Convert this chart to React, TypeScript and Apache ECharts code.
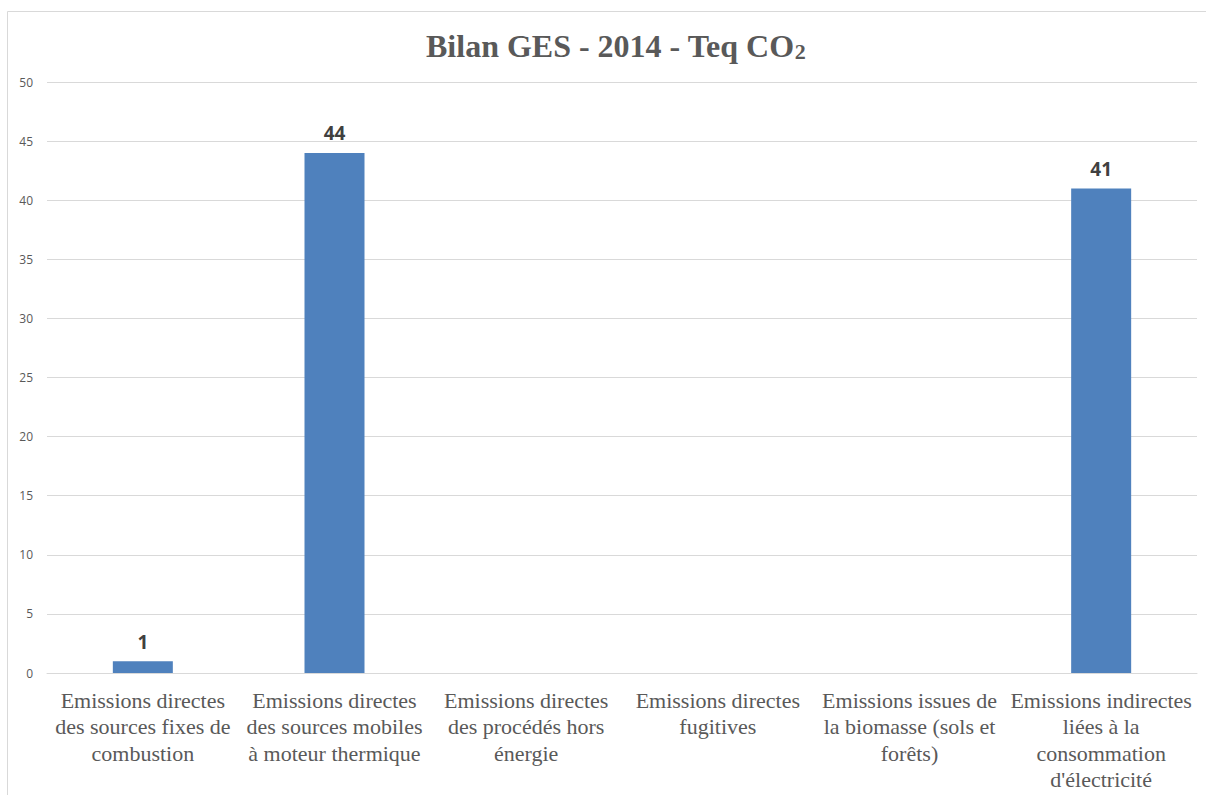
import React, { useEffect, useRef } from "react";
import * as echarts from "echarts";

const categories = [
  "Emissions directes\ndes sources fixes de\ncombustion",
  "Emissions directes\ndes sources mobiles\nà moteur thermique",
  "Emissions directes\ndes procédés hors\nénergie",
  "Emissions directes\nfugitives",
  "Emissions issues de\nla biomasse (sols et\nforêts)",
  "Emissions indirectes\nliées à la\nconsommation\nd'électricité",
];
const values = [1, 44, 0, 0, 0, 41];
const yMin = 0;
const yMax = 50;
const yInterval = 5;

const SERIF = "'Liberation Serif', 'Times New Roman', serif";

export default function App() {
  const ref = useRef<HTMLDivElement>(null);
  useEffect(() => {
    if (!ref.current) return;
    const chart = echarts.init(ref.current, null, { renderer: "svg" });
    chart.setOption({
      animation: false,
      backgroundColor: "#ffffff",
      textStyle: { fontFamily: SERIF },
      title: {
        text: "{a|Bilan GES - 2014 - Teq CO}{b|2}",
        left: 421,
        top: 25,
        textStyle: {
          rich: {
            a: {
              fontFamily: SERIF,
              fontWeight: "bold",
              fontSize: 32,
              color: "#595959",
            },
            b: {
              fontFamily: SERIF,
              fontWeight: "bold",
              fontSize: 22,
              color: "#595959",
              verticalAlign: "bottom",
              padding: [10, 0, 0, 0],
            },
          },
        },
      },
      graphic: [
        {
          type: "rect",
          shape: { x: 7.5, y: 11.5, width: 1220, height: 800 },
          style: { fill: "none", stroke: "#d9d9d9", lineWidth: 1 },
          silent: true,
        },
      ],
      grid: { left: 47, right: 9, top: 82, bottom: 122, containLabel: false },
      xAxis: {
        type: "category",
        data: categories,
        axisLine: { show: true, lineStyle: { color: "#d9d9d9", width: 1 } },
        axisTick: { show: false },
        axisLabel: {
          interval: 0,
          margin: 14,
          fontFamily: SERIF,
          fontSize: 22,
          lineHeight: 26.5,
          color: "#595959",
          align: "center",
        },
      },
      yAxis: {
        type: "value",
        min: yMin,
        max: yMax,
        interval: yInterval,
        axisLine: { show: false },
        axisTick: { show: false },
        splitLine: { lineStyle: { color: "#d9d9d9", width: 1 } },
        axisLabel: {
          margin: 14,
          fontFamily: "'Open Sans', sans-serif",
          fontSize: 12,
          color: "#595959",
        },
      },
      series: [
        {
          type: "bar",
          data: values,
          barWidth: 60,
          itemStyle: { color: "#4f81bd" },
          label: {
            show: true,
            position: "top",
            distance: 10,
            fontFamily: "'Open Sans', sans-serif",
            fontWeight: "bold",
            fontSize: 19,
            color: "#404040",
            formatter: (p: any) => (p.value === 0 ? "" : String(p.value)),
          },
        },
      ],
    });
    return () => chart.dispose();
  }, []);
  return (
    <div
      ref={ref}
      style={{ position: "fixed", left: 0, top: 0, width: 1206, height: 795 }}
    />
  );
}
